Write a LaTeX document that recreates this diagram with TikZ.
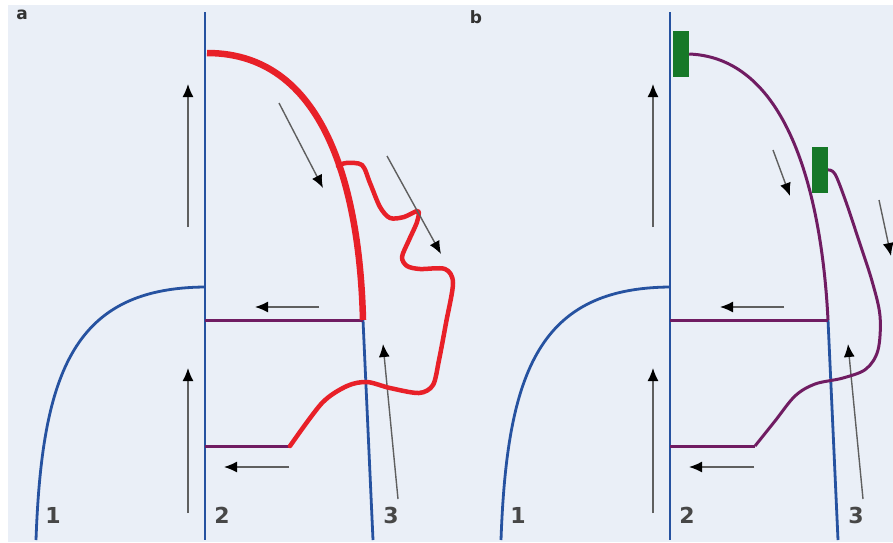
\documentclass[tikz,border=0pt]{standalone}
\usepackage{fontspec}
\newfontfamily\lblfont{DejaVu Sans}
\usetikzlibrary{arrows.meta}

\definecolor{bgblue}{RGB}{234,239,247}
\definecolor{vesselblue}{RGB}{38,82,160}
\definecolor{flowred}{RGB}{232,32,40}
\definecolor{flowpurple}{RGB}{112,28,98}
\definecolor{clotgreen}{RGB}{22,120,40}
\definecolor{arrowgray}{RGB}{95,95,95}

\tikzset{
  vessel/.style={vesselblue, line width=2.8pt},
  bridge/.style={flowpurple, line width=3pt},
  redflow/.style={flowred, line width=4.5pt, line join=round, line cap=round},
  purpleflow/.style={flowpurple, line width=3pt, line join=round},
  flowarrow/.style={arrowgray, line width=1.4pt, -{Latex[length=13pt,width=11pt,color=black]}},
  clot/.style={fill=clotgreen, draw=none, minimum width=16pt, minimum height=46pt, inner sep=0pt},
  numlabel/.style={text=black!72, font=\lblfont\bfseries\fontsize{22}{24}\selectfont},
  panellabel/.style={text=black!80, font=\lblfont\bfseries\fontsize{17}{19}\selectfont}
}

\begin{document}
\begin{tikzpicture}[x=1pt, y=-1pt]
    \useasboundingbox (0,0) rectangle (893,542);
    % Sfondo
    \fill[white] (0,0) rectangle (893,542);
    \fill[bgblue] (8,5) rectangle (893,542);
    % Parti comuni dei due pannelli
    \foreach \dx/\pn in {0/a, 465/b} {
      \begin{scope}[xshift=\dx]
        \coordinate (top\pn) at (205,12);
        \coordinate (bot\pn) at (205,540);
        \coordinate (join\pn) at (205,287);
        \coordinate (junc\pn) at (363,320);
        \coordinate (knee\pn) at (290,446);
        % Vasi
        \draw[vessel] (top\pn) -- (bot\pn);
        \draw[vessel] (36,540) .. controls (42,370) and (75,288) .. (join\pn);
        \draw[vessel] (junc\pn) -- (373,540);
        % Tratti orizzontali
        \draw[bridge] (205,320) -- (junc\pn);
        \draw[bridge] (205,446) -- (knee\pn);
        % Frecce
        \draw[flowarrow] (188,227) -- (188,84);
        \draw[flowarrow] (188,513) -- (188,368);
        \draw[flowarrow] (319,307) -- (255,307);
        \draw[flowarrow] (289,467) -- (224,467);
        \draw[flowarrow] (398,499) -- (383,344);
        % Numeri
        \node[numlabel] (n1\pn) at (53,515) {1};
        \node[numlabel] (n2\pn) at (222,515) {2};
        \node[numlabel] (n3\pn) at (391,515) {3};
      \end{scope}
    }
    % Pannello a
    \node[panellabel] (pa) at (22,15) {a};
    \draw[flowred, line width=6.5pt] (207,53) .. controls (330,53) and (360,200) .. (junca);
    \draw[redflow] plot[smooth, tension=0.5] coordinates {
        (338,166) (346,163) (362,165) (370,183) (380,207) (390,218)
        (404,217) (418,211) (417,222) (409,240) (402,257) (407,266)
        (420,269) (445,269) (453,283) (446,323) (439,360) (433,385)
        (419,393) (390,388) (367,382) (347,386) (322,403) (kneea)};
    \draw[flowarrow] (279,103) -- (323,188);
    \draw[flowarrow] (387,156) -- (441,254);
    % Pannello b
    \node[panellabel] (pb) at (476,17) {b};
    \node[clot] (clot1) at (681,54) {};
    \node[clot] (clot2) at (819.5,170) {};
    \draw[purpleflow] (clot1.east) .. controls (790,58) and (822,200) .. (juncb);
    \draw[purpleflow] plot[smooth, tension=0.55] coordinates {
        (clot2.east) (835,174) (846,202) (859,241) (872,281) (880,316)
        (878,350) (866,369) (843,378) (815,384) (795,396) (775,421)
        (kneeb)};
    \node[clot] at (clot2) {};
    \draw[flowarrow] (773,150) -- (790,196);
    \draw[flowarrow] (879,200) -- (891,256);
\end{tikzpicture}
\end{document}
